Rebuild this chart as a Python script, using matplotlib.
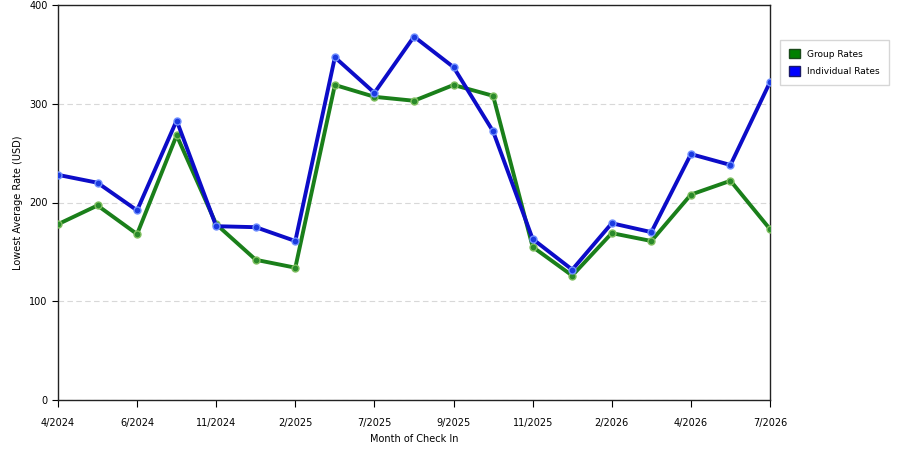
import numpy as np
import matplotlib
matplotlib.use("Agg")
import matplotlib.pyplot as plt
from matplotlib.patches import Patch

# month of check-in, only every other one is labelled on the axis
months = ['4/2024', '', '6/2024', '', '11/2024', '', '2/2025', '', '7/2025', '',
          '9/2025', '', '11/2025', '', '2/2026', '', '4/2026', '', '7/2026']
group_rates = [178, 197, 168, 268, 178, 142, 134, 319, 307, 303,
               319, 308, 155, 126, 169, 161, 208, 222, 173]
individual_rates = [228, 220, 192, 283, 176, 175, 161, 347, 311, 368,
                    337, 272, 163, 132, 179, 170, 249, 238, 322]

plt.rcParams['font.family'] = ['DejaVu Sans']
fig = plt.figure(figsize=(9, 4.5), dpi=100)
ax = fig.add_axes([0.0644, 0.111, 0.7912, 0.878])

x = np.arange(len(months))
ax.plot(x, group_rates, color='#1a7f1a', lw=2.8, marker='o', ms=5,
        mfc='#2a8a2a', mec='#7fbf5f', mew=1, zorder=3)
ax.plot(x, individual_rates, color='#0c0cc8', lw=2.8, marker='o', ms=5,
        mfc='#1a3ae0', mec='#6f8fff', mew=1, zorder=4)

ax.set_xlim(0, len(months) - 1)
ax.set_ylim(0, 400)
ticks = [i for i, m in enumerate(months) if m]
ax.set_xticks(ticks)
ax.set_xticklabels([months[i] for i in ticks], fontsize=7)
ax.set_yticks([0, 100, 200, 300, 400])
ax.tick_params(axis='y', labelsize=7, length=4)
ax.tick_params(axis='x', length=5, pad=8)
ax.yaxis.grid(True, color='#d8d8d8', ls=(0, (5, 3)), lw=0.8)
ax.set_axisbelow(True)
for s in ax.spines.values():
    s.set_color('#222222')
    s.set_linewidth(1)

ax.set_xlabel('Month of Check In', fontsize=7, labelpad=4)
ax.set_ylabel('Lowest Average Rate (USD)', fontsize=7, labelpad=4)

handles = [Patch(facecolor='#008000', edgecolor='#1a4a1a', label='Group Rates'),
           Patch(facecolor='#0000ff', edgecolor='#1a1a6a', label='Individual Rates')]
fig.legend(handles=handles, loc='upper left', bbox_to_anchor=(0.862, 0.922),
           fontsize=6.5, frameon=True, fancybox=False, edgecolor='#cccccc',
           handlelength=1.2, handleheight=1.3, borderpad=1.0, labelspacing=0.8)

fig.savefig('out.png', dpi=100)
